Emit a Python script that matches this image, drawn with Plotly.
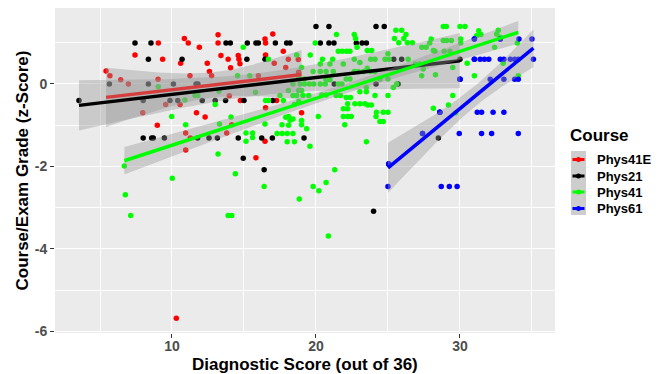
import numpy as np
import plotly.graph_objects as go

# ---------------- data ----------------
courses = ["Phys41E", "Phys21", "Phys41", "Phys61"]
colors = {"Phys41E": "#FF0000", "Phys21": "#000000", "Phys41": "#00FF00", "Phys61": "#0000FF"}

phys41e_x = [5.42, 5.69, 6.44, 6.97, 7.43, 7.97, 8.98, 9.05, 9.35, 9.03, 9.56, 10.56, 10.6, 10.86,
             11.13, 11.9, 11.25, 11.7, 12.3, 12.45, 12.6, 12.75, 13.2, 13.2, 13.4, 13.9, 14.07, 13.98,
             14.6, 14.65, 14.72, 14.75, 16.46, 16.5, 16.5, 16.0, 17.0, 17.1, 17.73, 18.08, 17.9, 18.77,
             18.8, 17.27, 16.5, 19.0, 10.95, 11.27, 10.95, 13.8, 14.15, 15.83, 16.46, 10.3]
phys41e_y = [0.31, 0.2, 0.1, 0.0, 0.70, -0.70, -1.0, 0.99, 0.60, 0.11, -0.5, -0.5, 0.5, 1.1,
             0.99, 0.89, 0.2, -0.7, -0.8, 0.5, 0.3, 0.2, 1.19, 0.99, 0.69, 0.6, 0.39, -0.29,
             0.69, 0.6, 0.49, -0.4, 1.09, 0.99, 0.7, 0.2, 1.21, 0.5, 0.79, 0.6, 0.4, 0.59,
             0.28, -0.4, -0.58, -0.7, -1.19, -1.31, -1.6, -1.19, -0.99, -1.79, -1.39, -5.68]

phys21_x = [3.54, 5.65, 8.36, 10.1, 11.67, 11.8, 21.27, 24.17, 25.7,
            7.43, 8.54, 13.75, 14.05, 15.23, 15.83, 16.0, 17.18, 17.96, 18.2, 20.3, 20.9, 21.25, 22.8, 23.2, 23.5,
            8.36, 10.7, 15.2, 16.46,
            20.0, 20.9, 24.17, 24.74,
            8.0, 9.86, 10.4, 12.1, 13.0, 13.72, 15.0, 17.0,
            8.0, 8.59, 8.7, 9.47, 11.78, 12.57, 13.15, 14.6, 16.23, 16.97, 19.17, 28.5,
            14.95, 16.4, 24.0, 25.4, 25.95, 30.0]
phys21_y = [-0.4, 0, 0, 0, 0, 0, 0, 0, 0,
            0.99, 0.99, 0.99, 0.99, 0.99, 0.99, 0.99, 0.99, 0.99, 0.99, 0.99, 0.99, 0.99, 0.99, 0.99, 0.99,
            0.6, 0.6, 0.6, 0.6,
            1.39, 1.39, 1.39, 1.39,
            -0.4, -0.4, -0.4, -0.4, -0.4, -0.4, -0.4, -0.4,
            -1.31, -1.31, -1.31, -1.31, -1.31, -1.31, -1.31, -1.31, -1.31, -1.31, -1.31, -1.31,
            -1.8, -2.08, -3.09, 0.6, 0.6, 0.6]

phys41_x = [6.69, 6.76, 7.13, 9.05, 9.98, 10.02, 10.95, 10.9, 11.6, 11.8, 13.0, 13.2, 13.26, 13.3, 13.9,
            14.15, 14.1, 14.4, 14.55, 14.95, 15.14, 15.14, 15.6, 15.6, 15.4, 15.8, 16.4, 16.46, 16.5, 16.7,
            16.7, 17.3, 17.65, 18.0, 18.4, 18.0, 18.5, 17.5, 17.73, 17.9, 18.1, 18.2, 18.4, 19.0, 17.64,
            18.1, 19.0, 18.66, 18.08, 18.8, 19.0, 18.4, 18.66, 19.1, 19.5, 18.5, 18.8, 18.84, 18.8, 19.2,
            18.4, 18.9, 19.2, 19.55, 19.85, 20.3, 20.65, 21.55, 21.8, 19.0, 19.35, 19.58,
            19.8, 20.2, 20.7, 20.86, 21.3,
            19.6, 19.95, 19.8, 20.3, 20.7, 21.2, 20.3, 20.97, 20.45, 21.16, 21.42, 21.55, 21.83, 22.13, 22.36,
            22.85, 21.9, 22.66, 23.05, 23.8, 24.1, 24.8, 25.07, 26.4, 23.56, 23.87, 25.0, 22.66, 22.75,
            20.7, 20.97, 22.1, 22.36, 22.66, 22.94, 23.3, 23.56, 23.8, 24.1, 24.44, 25.0,
            23.5, 25.37, 25.6,
            21.4, 21.7, 22.1, 22.4, 24.1, 20.4, 20.7, 25.0, 23.05, 23.5,
            22.2, 22.7, 23.05, 23.4, 23.6, 23.85, 21.9, 22.2,
            20.16, 21.9, 22.2, 22.45, 24.17, 22.0, 24.44, 24.67, 24.2, 24.67, 25.0, 23.5,
            25.55, 25.95, 26.25, 25.45, 26.1, 26.7, 25.75, 26.35,
            27.35, 27.65, 27.9, 28.15, 27.34, 26.9, 27.2, 27.45, 28.3,
            28.0, 28.84, 29.07, 29.4, 30.05, 30.05, 28.84, 29.05, 30.0, 30.35, 28.26, 28.9, 29.3,
            31.3, 31.45, 32.66, 31.15, 32.55, 32.8, 33.98, 32.4, 30.5, 33.0, 31.0, 34.05, 29.5,
            29.5, 29.2, 28.15, 29.7]
phys41_y = [-1.99, -2.69, -3.19, -0.07, -0.79, -2.29, -0.99, -0.39, -0.28, -0.28, -0.5, -1.7, -0.18, -0.97, -3.19,
            -3.19, -0.8, -2.18, 0.2, 0.89, -1.19, -1.39, -1.19, -1.30, 0.2, -0.2, -2.49, -0.97, -0.4, -0.4,
            0.6, -1.2, -1.2, -1.2, -1.2, -1.4, -1.4, -0.28, -0.4, -0.81, -0.79, -0.88, -0.85, -0.89, -0.99,
            -1.0, -0.99, 0.70, -0.16, -0.16, -0.16, -0.28, -0.28, -0.28, -0.28, -0.5, -0.43, -2.79, 0.14, 0.12,
            0.0, 0.0, 0.0, 0.0, 0.0, 0.0, 0.0, 0.0, 0.0, 0.4, -1.09, -1.51,
            -2.49, -2.59, -2.39, -3.69, -2.08,
            0.70, 0.99, 0.3, 0.3, 0.3, 0.3, 0.48, 0.48, 0.6, 0.6, 1.2, 0.79, 0.79, 0.79, 0.79,
            0.89, 0.48, 0.6, 0.52, 0.6, 0.6, 0.6, 0.6, 0.6, 0.81, 0.81, 0.73, 1.2, 1.1,
            0.1, 0.1, 0.12, 0.12, 0.3, 0.3, 0.3, 0.38, 0.3, 0.3, 0.12, 0.12,
            -0.09, -0.09, 0.0,
            -0.28, -0.28, -0.33, -0.33, -0.28, -0.27, -0.27, -0.28, -0.19, -0.19,
            -0.48, -0.48, -0.48, -0.48, -0.51, -0.51, -0.6, -0.6,
            -0.79, -0.79, -0.79, -0.79, -0.79, -0.99, -0.91, -0.91, -0.69, -0.69, -0.69, -1.40,
            1.3, 1.3, 1.2, 1.1, 1.1, 1.0, 1.0, 1.0,
            0.89, 0.89, 0.99, 0.81, 0.2, 0.48, 0.48, 0.36, 0.22,
            1.09, 1.05, 1.05, 1.05, 1.09, 0.99, 1.39, 1.39, 1.39, 1.39, 0.79, 0.79, 0.79,
            1.29, 1.2, 1.3, 1.17, 1.21, 1.13, 0.99, 0.89, 0.5, 0.5, 0.2, 0.2, 0.4,
            -0.28, -0.51, -0.59, -0.70]

# Phys61: visible points plus estimated overplotted duplicates (identical score/grade pairs)
phys61_x = [31.0, 32.8, 34.1, 35.0, 31.0, 32.8,
            31.0, 31.4, 31.7, 32.0, 32.8, 33.05, 33.5, 33.8, 34.05, 35.1, 31.0,
            30.0, 32.1, 33.05, 33.8, 34.05, 30.0, 30.0,
            28.6, 31.2, 31.5, 32.3, 33.05, 28.6, 28.6,
            27.4, 29.95, 31.5, 32.2, 34.05, 27.4,
            25.05, 25.05, 25.05,
            25.0, 28.7, 29.26, 29.8]
phys61_y = [1.09, 1.09, 1.09, 1.09, 1.09, 1.09,
            0.6, 0.6, 0.6, 0.6, 0.6, 0.6, 0.6, 0.6, 0.6, 0.6, 0.6,
            0.11, 0.11, 0.11, 0.11, 0.11, 0.11, 0.11,
            -0.69, -0.69, -0.69, -0.69, -0.69, -0.69, -0.69,
            -1.2, -1.2, -1.2, -1.2, -1.2, -1.2,
            -1.94, -1.94, -1.94,
            -2.49, -2.49, -2.49, -2.49]

series = {
    "Phys41E": (phys41e_x, phys41e_y),
    "Phys21": (phys21_x, phys21_y),
    "Phys41": (phys41_x, phys41_y),
    "Phys61": (phys61_x, phys61_y),
}

FONT = "Liberation Sans, Arial, sans-serif"

fig = go.Figure()

# points (all groups first, like ggplot's geom_point layer)
for c in courses:
    xs, ys = series[c]
    fig.add_trace(go.Scatter(x=xs, y=ys, mode="markers", showlegend=False,
                             marker=dict(color=colors[c], size=5.5, line=dict(width=0)),
                             hoverinfo="skip"))


def tq(df):
    # approximate 97.5% t quantile
    return 1.96 + 2.4 / df + 2.5 / df ** 2


# linear fits with 95% confidence bands (geom_smooth(method="lm"))
for c in courses:
    xs, ys = np.array(series[c][0], float), np.array(series[c][1], float)
    n = len(xs)
    b, a = np.polyfit(xs, ys, 1)
    resid = ys - (a + b * xs)
    s = np.sqrt(np.sum(resid ** 2) / (n - 2))
    xbar = xs.mean()
    sxx = np.sum((xs - xbar) ** 2)
    gx = np.linspace(xs.min(), xs.max(), 80)
    gy = a + b * gx
    se = s * np.sqrt(1.0 / n + (gx - xbar) ** 2 / sxx)
    t = tq(n - 2)
    lo, hi = gy - t * se, gy + t * se
    fig.add_trace(go.Scatter(x=np.concatenate([gx, gx[::-1]]), y=np.concatenate([hi, lo[::-1]]),
                             fill="toself", fillcolor="rgba(153,153,153,0.4)", line=dict(width=0),
                             mode="lines", showlegend=False, hoverinfo="skip"))
    fig.add_trace(go.Scatter(x=gx, y=gy, mode="lines", name=c, showlegend=False,
                             line=dict(color=colors[c], width=3.5), hoverinfo="skip"))

# ---------------- layout ----------------
L, R, T, B = 55, 109, 8, 41
W, H = 664, 374
PW, PH = W - L - R, H - T - B


def px2x(p):
    return (p - L) / PW


def py2y(p):
    return (H - B - p) / PH


annotations = [
    dict(text="Diagnostic Score (out of 36)", x=0.5, y=py2y(364), xref="paper", yref="paper",
         showarrow=False, xanchor="center", yanchor="middle",
         font=dict(size=17, weight="bold", color="black", family=FONT)),
    dict(text="Course/Exam Grade (z-Score)", x=px2x(22), y=0.5, xref="paper", yref="paper",
         showarrow=False, xanchor="center", yanchor="middle", textangle=-90,
         font=dict(size=17, weight="bold", color="black", family=FONT)),
    dict(text="Course", x=px2x(568), y=py2y(135), xref="paper", yref="paper",
         showarrow=False, xanchor="left", yanchor="middle",
         font=dict(size=17, weight="bold", color="black", family=FONT)),
]

shapes = [dict(type="rect", xref="paper", yref="paper", x0=px2x(571), x1=px2x(586),
               y0=py2y(215), y1=py2y(151), fillcolor="#CDCDCD", line=dict(width=0), layer="above")]

key_rows = [159.5, 176, 192, 208.5]
for c, ky in zip(courses, key_rows):
    shapes.append(dict(type="line", xref="paper", yref="paper", x0=px2x(572.5), x1=px2x(584.5),
                       y0=py2y(ky), y1=py2y(ky), line=dict(color=colors[c], width=3), layer="above"))
    shapes.append(dict(type="circle", xref="paper", yref="paper", x0=px2x(576), x1=px2x(581),
                       y0=py2y(ky + 2.5), y1=py2y(ky - 2.5), fillcolor=colors[c],
                       line=dict(width=0), layer="above"))
    annotations.append(dict(text=c, x=px2x(595), y=py2y(ky), xref="paper", yref="paper",
                            showarrow=False, xanchor="left", yanchor="middle",
                            font=dict(size=13, weight="bold", color="black", family=FONT)))

fig.update_layout(
    width=W, height=H,
    margin=dict(l=L, r=R, t=T, b=B, autoexpand=False),
    paper_bgcolor="white",
    plot_bgcolor="#EBEBEB",
    font=dict(family=FONT, color="black"),
    showlegend=False,
    annotations=annotations,
    shapes=shapes,
    xaxis=dict(
        range=[1.875, 36.6], tickvals=[10, 20, 30], ticktext=["10", "20", "30"],
        showgrid=True, gridcolor="white", gridwidth=1.2, zeroline=False,
        minor=dict(tickvals=[5, 15, 25, 35], gridcolor="white", gridwidth=0.6, showgrid=True),
        ticks="outside", ticklen=4, tickcolor="#333333", tickwidth=1,
        tickfont=dict(size=14, color="#4D4D4D", weight="bold"),
        ticklabelstandoff=-4,
        automargin=False, showline=False,
    ),
    yaxis=dict(
        range=[-6.04, 1.84], tickvals=[-6, -4, -2, 0], ticktext=["-6", "-4", "-2", "0"],
        showgrid=True, gridcolor="white", gridwidth=1.2, zeroline=False,
        minor=dict(tickvals=[-5, -3, -1, 1], gridcolor="white", gridwidth=0.6, showgrid=True),
        ticks="outside", ticklen=4, tickcolor="#333333", tickwidth=1,
        tickfont=dict(size=14, color="#4D4D4D", weight="bold"),
        automargin=False, showline=False,
    ),
)

fig.write_html("out.html",
               config={"displayModeBar": False},
               post_script="document.documentElement.style.margin='0';"
                           "document.body.style.margin='0';document.body.style.padding='0';"
                           "document.body.style.overflow='hidden';")
